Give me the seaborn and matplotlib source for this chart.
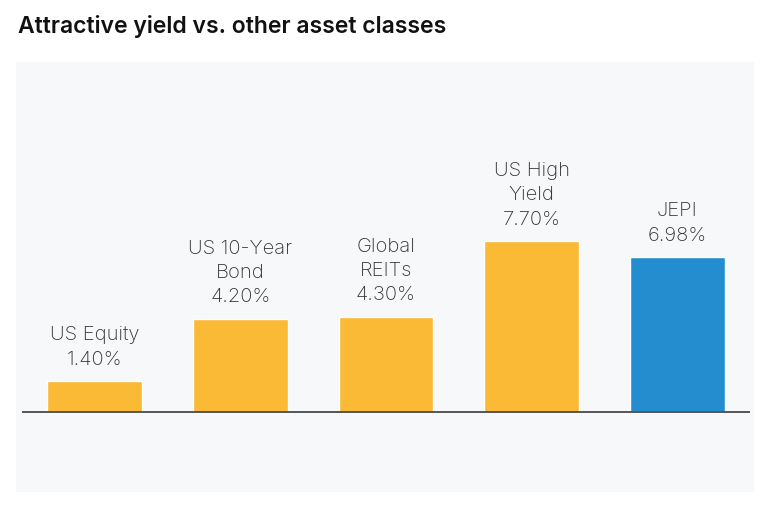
import matplotlib
matplotlib.use("Agg")
import matplotlib.pyplot as plt
import seaborn as sns
import pandas as pd

categories = ["US Equity", "US 10-Year\nBond", "Global\nREITs", "US High\nYield", "JEPI"]
yields = [1.40, 4.20, 4.30, 7.70, 6.98]
bar_colors = ["#FBBA35", "#FBBA35", "#FBBA35", "#FBBA35", "#248DCF"]

df = pd.DataFrame({"category": categories, "yield": yields})

sns.set_theme(style="white")
plt.rcParams["font.family"] = ["Inter", "DejaVu Sans"]

W, H = 780, 505
fig = plt.figure(figsize=(W / 100, H / 100), dpi=100)
fig.patch.set_facecolor("white")

# light panel behind the chart
bg = fig.add_axes([16 / W, 1 - 492 / H, (754 - 16) / W, (492 - 62) / H])
bg.set_facecolor("#F7F8FA")
bg.set_xticks([])
bg.set_yticks([])
for s in bg.spines.values():
    s.set_visible(False)

ax = fig.add_axes([22 / W, 1 - 492 / H, (750 - 22) / W, (492 - 62) / H])
ax.set_facecolor("none")

sns.barplot(data=df, x="category", y="yield", hue="category", palette=bar_colors,
            legend=False, width=0.65, saturation=1, ax=ax)

ax.set_xlim(-0.5, 4.5)
ax.set_ylim(-3.6, 15.77)
ax.axhline(0, color="#555555", linewidth=1.4, zorder=3)

for i, (cat, val) in enumerate(zip(categories, yields)):
    ax.annotate(f"{cat}\n{val:.2f}%", xy=(i, val), xytext=(0, 9),
                textcoords="offset points", ha="center", va="bottom",
                fontsize=14.5, color="#333333", fontweight="light",
                linespacing=1.45)

ax.set_xlabel("")
ax.set_ylabel("")
ax.set_xticks([])
ax.set_yticks([])
for s in ax.spines.values():
    s.set_visible(False)

fig.text(18 / W, 1 - 27 / H, "Attractive yield vs. other asset classes",
         fontsize=16.5, fontweight="semibold", color="#111111", va="center", ha="left")

fig.savefig("out.png", dpi=100, facecolor="white")
